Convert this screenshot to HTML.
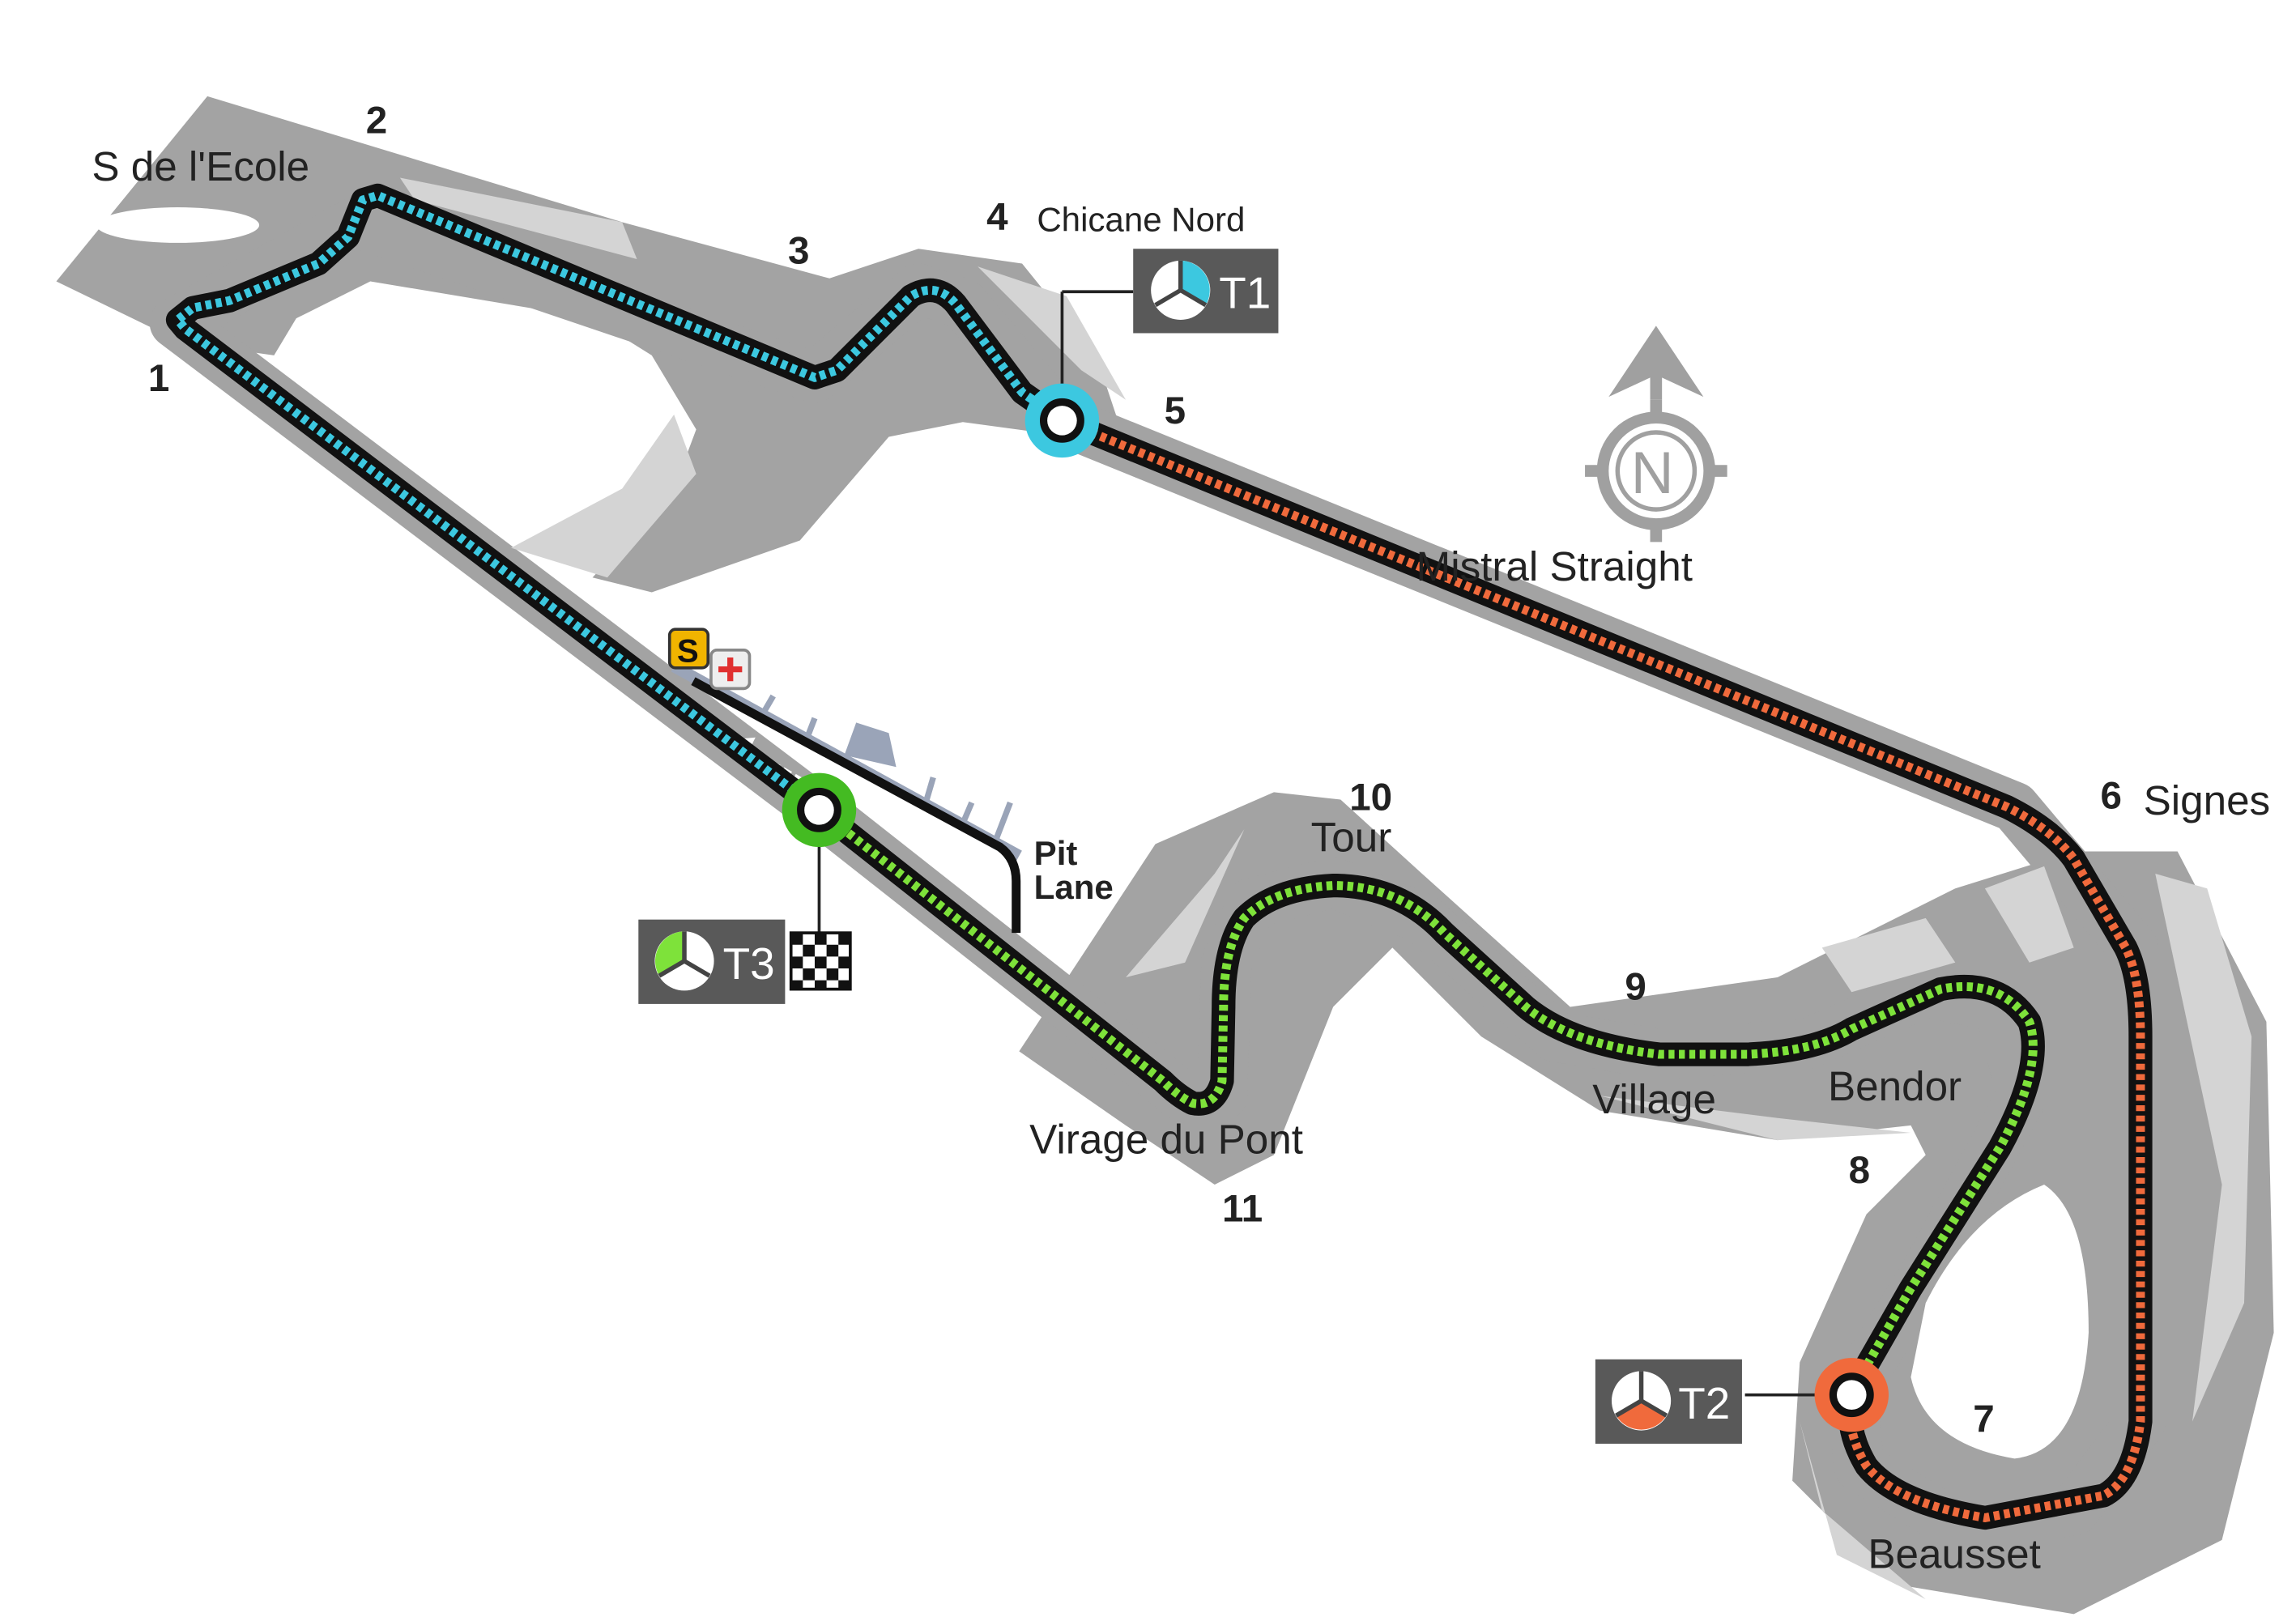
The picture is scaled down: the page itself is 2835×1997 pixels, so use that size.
<!DOCTYPE html>
<html><head><meta charset="utf-8"><style>
html,body{margin:0;padding:0;background:#fff;}
svg{display:block;}
text{font-family:"Liberation Sans",sans-serif;fill:#222;}
.n{font-weight:bold;font-size:26px;}
.l{font-size:28px;}
</style></head><body>
<svg width="2835" height="1997" viewBox="0 0 1550 1092" preserveAspectRatio="none" xmlns="http://www.w3.org/2000/svg">
<rect width="1550" height="1092" fill="#fff"/>
<g fill="#a3a3a3">
<polygon points="38,190 140,65 420,150 560,188 620,168 690,178 740,240 760,300 650,285 600,295 540,365 440,400 400,390 455,330 470,290 440,240 400,215 250,190 200,215 185,240 150,235 110,225"/>
<polygon points="688,710 780,570 860,535 905,540 960,590 1060,680 1200,660 1320,600 1400,575 1470,575 1530,690 1535,900 1500,1040 1400,1090 1280,1070 1210,1000 1215,920 1260,820 1300,780 1290,760 1200,770 1080,750 1000,700 940,640 900,680 860,780 820,800 760,760"/>
</g>
<g fill="none" stroke="#a3a3a3" stroke-linejoin="round" stroke-linecap="round">
<path stroke-width="34" d="M553,547 L118,218 L240,150 L550,255 L620,195 L650,205 L717,284 L1360,545 L1440,640 L1445,960 L1400,1020 L1320,1030 L1255,990 L1250,940 L1300,860 L1365,740 L1350,680 L1300,670 L1220,705 L1120,712 L1050,700 L960,620 L900,596 L845,610 L828,650 L825,740 L798,740 Z"/>
</g>
<g fill="#d4d4d4">
<polygon points="270,120 420,150 430,175 280,135"/>
<polygon points="345,370 420,330 455,280 470,320 410,390"/>
<polygon points="1455,590 1490,600 1520,700 1515,880 1480,960 1500,800"/>
<polygon points="1340,600 1380,585 1400,640 1370,650"/>
<polygon points="1230,640 1300,620 1320,650 1250,670"/>
<polygon points="760,660 820,590 840,560 800,650"/>
<polygon points="1215,960 1240,1050 1300,1080 1230,1020"/>
<polygon points="660,180 720,200 760,270 730,250"/>
<polygon points="1080,740 1200,755 1290,765 1200,770"/>
</g>
<g fill="#fff">
<ellipse cx="120" cy="152" rx="55" ry="12"/>
<path d="M1300,880 Q1330,820 1380,800 Q1410,820 1410,900 Q1405,980 1360,985 Q1300,975 1290,930 Z"/>
</g>
<line x1="455" y1="450" x2="688" y2="578" stroke="#9aa4b8" stroke-width="8"/>
<g stroke="#9aa4b8" stroke-width="4">
<line x1="515" y1="482" x2="522" y2="470"/><line x1="545" y1="498" x2="550" y2="485"/>
<line x1="625" y1="542" x2="630" y2="525"/><line x1="650" y1="556" x2="656" y2="542"/>
<line x1="672" y1="568" x2="682" y2="542"/>
</g>
<polygon points="570,510 578,488 600,495 605,518" fill="#9aa4b8"/>
<path d="M468,460 L675,572 Q686,580 686,595 L686,630" fill="none" stroke="#111" stroke-width="6"/>
<path d="M540,530 L500,507" stroke="#fff" stroke-width="10" stroke-dasharray="6 3"/>
<polygon points="488,500 510,498 502,514" fill="#fff"/>
<g fill="none" stroke="#111" stroke-width="16" stroke-linejoin="round" stroke-linecap="round">
<path d="M553,547 L125,222 L120,216 L130,208 L155,203 L215,178 L235,160 L245,135 L255,132 L550,255 L565,250 L615,200 Q632,190 645,205 L690,265 L717,284 L1355,545 Q1385,560 1400,580 L1435,640 Q1445,660 1445,700 L1445,960 Q1440,1000 1420,1010 L1340,1025 Q1280,1015 1260,990 Q1245,965 1250,940 L1290,870 L1350,775 Q1380,720 1370,690 Q1350,660 1310,668 L1250,695 Q1225,710 1180,712 L1120,712 Q1060,705 1030,680 L975,630 Q945,598 900,598 Q860,600 840,620 Q826,640 826,680 L825,730 Q820,748 805,745 Q795,740 785,730 L553,547"/>
</g>
<g fill="none" stroke-width="6" stroke-dasharray="4 3" stroke-linejoin="round">
<path stroke="#3cc8e0" d="M553,547 L125,222 L120,216 L130,208 L155,203 L215,178 L235,160 L245,135 L255,132 L550,255 L565,250 L615,200 Q632,190 645,205 L690,265 L717,284"/>
<path stroke="#f06a3c" d="M717,284 L1355,545 Q1385,560 1400,580 L1435,640 Q1445,660 1445,700 L1445,960 Q1440,1000 1420,1010 L1340,1025 Q1280,1015 1260,990 Q1245,965 1250,940"/>
<path stroke="#7ee23a" d="M1250,940 L1290,870 L1350,775 Q1380,720 1370,690 Q1350,660 1310,668 L1250,695 Q1225,710 1180,712 L1120,712 Q1060,705 1030,680 L975,630 Q945,598 900,598 Q860,600 840,620 Q826,640 826,680 L825,730 Q820,748 805,745 Q795,740 785,730 L553,547"/>
</g>
<line x1="717" y1="284" x2="717" y2="197" stroke="#222" stroke-width="2"/><line x1="717" y1="197" x2="765" y2="197" stroke="#222" stroke-width="2"/>
<line x1="553" y1="547" x2="553" y2="650" stroke="#222" stroke-width="2"/>
<line x1="1250" y1="942" x2="1178" y2="942" stroke="#222" stroke-width="2"/>
<circle cx="717" cy="284" r="20" fill="#111" stroke="#3cc8e0" stroke-width="10"/><circle cx="717" cy="284" r="10" fill="#fff"/>
<circle cx="553" cy="547" r="20" fill="#111" stroke="#44bb22" stroke-width="10"/><circle cx="553" cy="547" r="10" fill="#fff"/>
<circle cx="1250" cy="942" r="20" fill="#111" stroke="#f06a3c" stroke-width="10"/><circle cx="1250" cy="942" r="10" fill="#fff"/>
<g>
<rect x="765" y="168" width="98" height="57" fill="#595959"/>
<circle cx="797" cy="196" r="20" fill="#fff"/><path d="M797,196 L797,176 A20,20 0 0 1 814,206 Z" fill="#3cc8e0"/>
<g stroke="#444" stroke-width="3"><line x1="797" y1="196" x2="797" y2="176"/><line x1="797" y1="196" x2="780" y2="206"/><line x1="797" y1="196" x2="814" y2="206"/></g>
<text x="823" y="208" style="fill:#fff;font-size:30px;">T1</text>
<rect x="431" y="621" width="99" height="57" fill="#595959"/>
<circle cx="462" cy="649" r="20" fill="#fff"/><path d="M462,649 L462,629 A20,20 0 0 0 445,659 Z" fill="#7ee23a"/>
<g stroke="#444" stroke-width="3"><line x1="462" y1="649" x2="462" y2="629"/><line x1="462" y1="649" x2="445" y2="659"/><line x1="462" y1="649" x2="479" y2="659"/></g>
<text x="488" y="661" style="fill:#fff;font-size:30px;">T3</text>
<rect x="1077" y="918" width="99" height="57" fill="#595959"/>
<circle cx="1108" cy="946" r="20" fill="#fff"/><path d="M1108,946 L1125,956 A20,20 0 0 1 1091,956 Z" fill="#f06a3c"/>
<g stroke="#444" stroke-width="3"><line x1="1108" y1="946" x2="1108" y2="926"/><line x1="1108" y1="946" x2="1091" y2="956"/><line x1="1108" y1="946" x2="1125" y2="956"/></g>
<text x="1133" y="958" style="fill:#fff;font-size:30px;">T2</text>
</g>
<g>
<rect x="534" y="630" width="40" height="38" fill="#fff" stroke="#111" stroke-width="2"/>
<g fill="#111">
<rect x="534" y="630" width="8" height="8"/><rect x="550" y="630" width="8" height="8"/><rect x="566" y="630" width="8" height="8"/>
<rect x="542" y="638" width="8" height="8"/><rect x="558" y="638" width="8" height="8"/>
<rect x="534" y="646" width="8" height="8"/><rect x="550" y="646" width="8" height="8"/><rect x="566" y="646" width="8" height="8"/>
<rect x="542" y="654" width="8" height="8"/><rect x="558" y="654" width="8" height="8"/>
<rect x="534" y="662" width="8" height="6"/><rect x="550" y="662" width="8" height="6"/><rect x="566" y="662" width="8" height="6"/>
</g></g>
<rect x="452" y="425" width="26" height="26" rx="4" fill="#f0b400" stroke="#333" stroke-width="2"/>
<text x="457" y="447" style="font-weight:bold;font-size:22px;fill:#111;">S</text>
<rect x="480" y="439" width="26" height="26" rx="4" fill="#eee" stroke="#888" stroke-width="2"/>
<path d="M493,444 v16 M485,452 h16" stroke="#e03030" stroke-width="4"/>
<g fill="none" stroke="#a0a0a0">
<circle cx="1118" cy="318" r="36" stroke-width="8"/>
<circle cx="1118" cy="318" r="26" stroke-width="3"/>
<line x1="1118" y1="270" x2="1118" y2="282" stroke-width="8"/>
<line x1="1118" y1="354" x2="1118" y2="366" stroke-width="8"/>
<line x1="1070" y1="318" x2="1082" y2="318" stroke-width="8"/>
<line x1="1154" y1="318" x2="1166" y2="318" stroke-width="8"/>
</g>
<polygon points="1118,220 1150,268 1122,255 1122,270 1114,270 1114,255 1086,268" fill="#a0a0a0"/>
<text x="1101" y="333" style="fill:#a0a0a0;font-size:40px;">N</text>
<text class="n" x="100" y="264">1</text>
<text class="n" x="247" y="90">2</text>
<text class="n" x="532" y="178">3</text>
<text class="n" x="666" y="155">4</text>
<text class="n" x="786" y="286">5</text>
<text class="n" x="1418" y="546">6</text>
<text class="n" x="1332" y="967">7</text>
<text class="n" x="1248" y="799">8</text>
<text class="n" x="1097" y="675">9</text>
<text class="n" x="911" y="547">10</text>
<text class="n" x="825" y="825">11</text>
<text class="l" x="62" y="122">S de l'Ecole</text>
<text x="700" y="156" style="font-size:23px;">Chicane Nord</text>
<text class="l" x="956" y="392">Mistral Straight</text>
<text class="l" x="1447" y="550">Signes</text>
<text class="l" x="885" y="575">Tour</text>
<text class="l" x="1075" y="752">Village</text>
<text class="l" x="1234" y="743">Bendor</text>
<text class="l" x="695" y="779">Virage du Pont</text>
<text class="l" x="1261" y="1059">Beausset</text>
<text x="698" y="584" style="font-weight:bold;font-size:23px;">Pit</text>
<text x="698" y="607" style="font-weight:bold;font-size:23px;">Lane</text>
</svg>
</body></html>
